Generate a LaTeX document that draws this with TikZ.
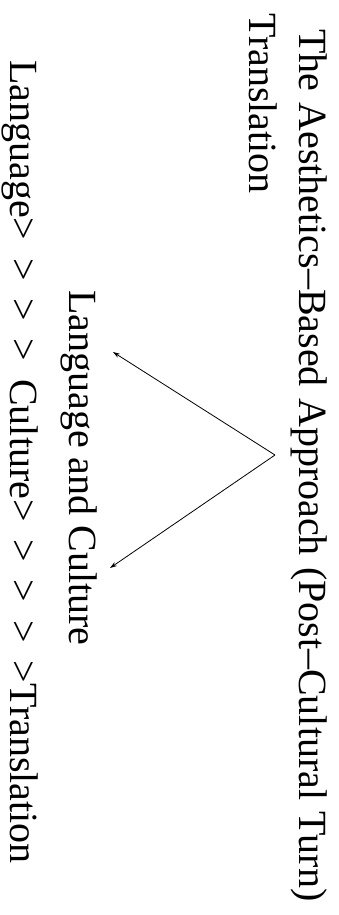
\documentclass[tikz,border=0pt]{standalone}
\usepackage{fontspec}
\setmainfont{Liberation Serif}
\usetikzlibrary{arrows.meta}

\begin{document}
\begin{tikzpicture}[
  x=1pt, y=-1pt,
  vtext/.style={rotate=-90, anchor=base west, inner sep=0pt,
                font=\fontsize{40}{48}\selectfont},
  link/.style={->, line width=0.8pt},
  >={Stealth[length=7pt, width=4.5pt]}
]
  \useasboundingbox (0,0) rectangle (339,915);

  \node[vtext] (title)  at (299,29)  {\spaceskip=0.28em The Aesthetics–Based Approach (Post–Cultural Turn)};
  \node[vtext] (title2) at (249,13)  {Translation};
  \node[vtext] (langcul) at (69,290) {Language and Culture};
  \node[vtext] (chain)  at (10,60)   {\spaceskip=0.444em Language> > > > Culture> > > > >Translation};

  \coordinate (apex)  at (275,455);
  \coordinate (upper) at (113,352);
  \coordinate (lower) at (110,568);
  \draw[link] (apex) -- (upper);
  \draw[link] (apex) -- (lower);
\end{tikzpicture}
\end{document}
